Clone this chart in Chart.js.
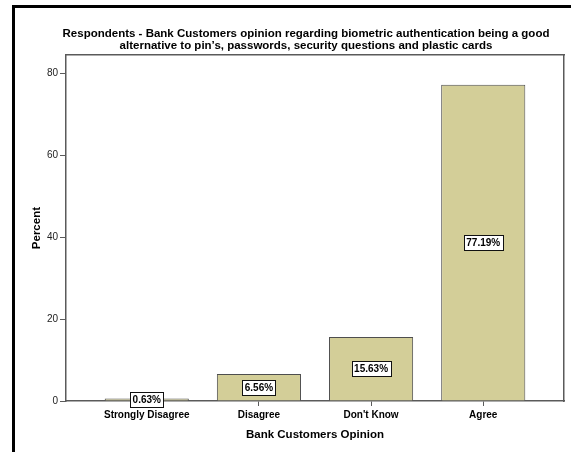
<!DOCTYPE html>
<html>
<head>
<meta charset="utf-8">
<script src="https://cdn.jsdelivr.net/npm/chart.js@4/dist/chart.umd.min.js"></script>
<style>
  html, body { margin: 0; padding: 0; background: #fff; overflow: hidden; }
  #frame {
    position: absolute; left: 12px; top: 5px; width: 700px; height: 600px;
    border-left: 3px solid #000; border-top: 3px solid #000; box-sizing: border-box;
  }
  #chart { position: absolute; left: 0; top: 0; }
</style>
</head>
<body>
<div id="frame"></div>
<canvas id="chart" width="571" height="452"></canvas>
<script>
// Survey categories and percentage of respondents in each
const categories = ['Strongly Disagree', 'Disagree', "Don't Know", 'Agree'];
const percents = [0.63, 6.56, 15.63, 77.19];
const yTicks = [0, 20, 40, 60, 80];

const titleLines = [
  'Respondents - Bank Customers opinion regarding biometric authentication being a good',
  'alternative to pin\u2019s, passwords, security questions and plastic cards'
];
const xTitle = 'Bank Customers Opinion';
const yTitle = 'Percent';

const FONT = "'Liberation Sans', Arial, sans-serif";
const AXIS = '#5a5a5a';

// White value boxes drawn in the middle of each bar
const valueBoxes = {
  id: 'valueBoxes',
  afterDatasetsDraw(chart) {
    const ctx = chart.ctx;
    const meta = chart.getDatasetMeta(0);
    ctx.save();
    ctx.font = 'bold 10px ' + FONT;
    ctx.textAlign = 'center';
    ctx.textBaseline = 'middle';
    meta.data.forEach((bar, i) => {
      const text = percents[i].toFixed(2) + '%';
      const cx = bar.x;
      const cy = (bar.y + bar.base) / 2;
      const w = Math.round(ctx.measureText(text).width) + 5;
      const h = 15;
      const x0 = Math.round(cx - w / 2) + 0.5;
      const y0 = Math.round(cy - h / 2) + 0.5;
      ctx.fillStyle = '#fff';
      ctx.fillRect(x0, y0, w, h);
      ctx.strokeStyle = '#111';
      ctx.lineWidth = 1;
      ctx.strokeRect(x0, y0, w, h);
      ctx.fillStyle = '#000';
      ctx.fillText(text, cx, cy + 0.5);
    });
    ctx.restore();
  }
};

const bg = {
  id: 'bg',
  beforeDraw(chart) {
    const ctx = chart.ctx;
    ctx.save();
    ctx.fillStyle = '#fff';
    ctx.fillRect(15, 8, chart.width, chart.height);
    ctx.restore();
  }
};

new Chart(document.getElementById('chart'), {
  type: 'bar',
  data: {
    datasets: [{
      data: percents.map((v, i) => ({ x: i, y: v })),
      backgroundColor: '#d3ce98',
      borderColor: '#4e4e4e',
      borderWidth: 1,
      categoryPercentage: 1,
      barPercentage: 0.75
    }]
  },
  options: {
    responsive: false,
    animation: false,
    // the layout box reaches past the right edge so the heading sits left of the canvas centre;
    // the right-hand frame axis takes that width back
    layout: { padding: { left: 0, right: -41, top: 0, bottom: 0 } },
    plugins: {
      legend: { display: false },
      tooltip: { enabled: false },
      title: {
        display: true,
        text: titleLines,
        color: '#000',
        font: { family: FONT, size: 11.5, weight: 'bold', lineHeight: 1.05 },
        padding: { top: 28, bottom: 3 }
      }
    },
    scales: {
      x: {
        type: 'linear',
        position: 'bottom',
        min: -0.72,
        max: 3.72,
        offset: false,
        afterBuildTicks: s => { s.ticks = categories.map((c, i) => ({ value: i })); },
        afterFit: s => { s.height = 51; },
        ticks: {
          autoSkip: false,
          maxRotation: 0,
          padding: 3,
          color: '#000',
          font: { family: FONT, size: 10, weight: 'bold' },
          callback: v => categories[v]
        },
        grid: { display: true, drawOnChartArea: false, drawTicks: true, tickLength: 5, color: AXIS, lineWidth: 1, offset: false },
        border: { display: true, color: AXIS, width: 1.5 },
        title: {
          display: true,
          text: xTitle,
          color: '#000',
          font: { family: FONT, size: 11.5, weight: 'bold', lineHeight: 1.2 },
          padding: { top: 0, bottom: 10 }
        }
      },
      xTop: {
        type: 'linear',
        position: 'top',
        min: -0.72,
        max: 3.72,
        afterFit: s => { s.height = 0; },
        ticks: { display: false },
        grid: { display: false },
        border: { display: true, color: AXIS, width: 1.5 }
      },
      y: {
        type: 'linear',
        position: 'left',
        min: 0,
        max: 84.4,
        afterFit: s => { s.width = 66; },
        afterBuildTicks: s => { s.ticks = yTicks.map(v => ({ value: v })); },
        ticks: {
          padding: 2,
          color: '#222',
          font: { family: FONT, size: 10 }
        },
        grid: { display: true, drawOnChartArea: false, drawTicks: true, tickLength: 6, color: AXIS, lineWidth: 1 },
        border: { display: true, color: AXIS, width: 1.5 },
        title: {
          display: true,
          text: yTitle,
          color: '#000',
          font: { family: FONT, size: 11.5, weight: 'bold', lineHeight: 1.2 },
          padding: { top: 30, bottom: 0 }
        }
      },
      yRight: {
        type: 'linear',
        position: 'right',
        min: 0,
        max: 84.4,
        afterFit: s => { s.width = 48; },
        ticks: { display: false },
        grid: { display: false },
        border: { display: true, color: AXIS, width: 1.5 }
      }
    }
  },
  plugins: [bg, valueBoxes]
});
</script>
</body>
</html>
